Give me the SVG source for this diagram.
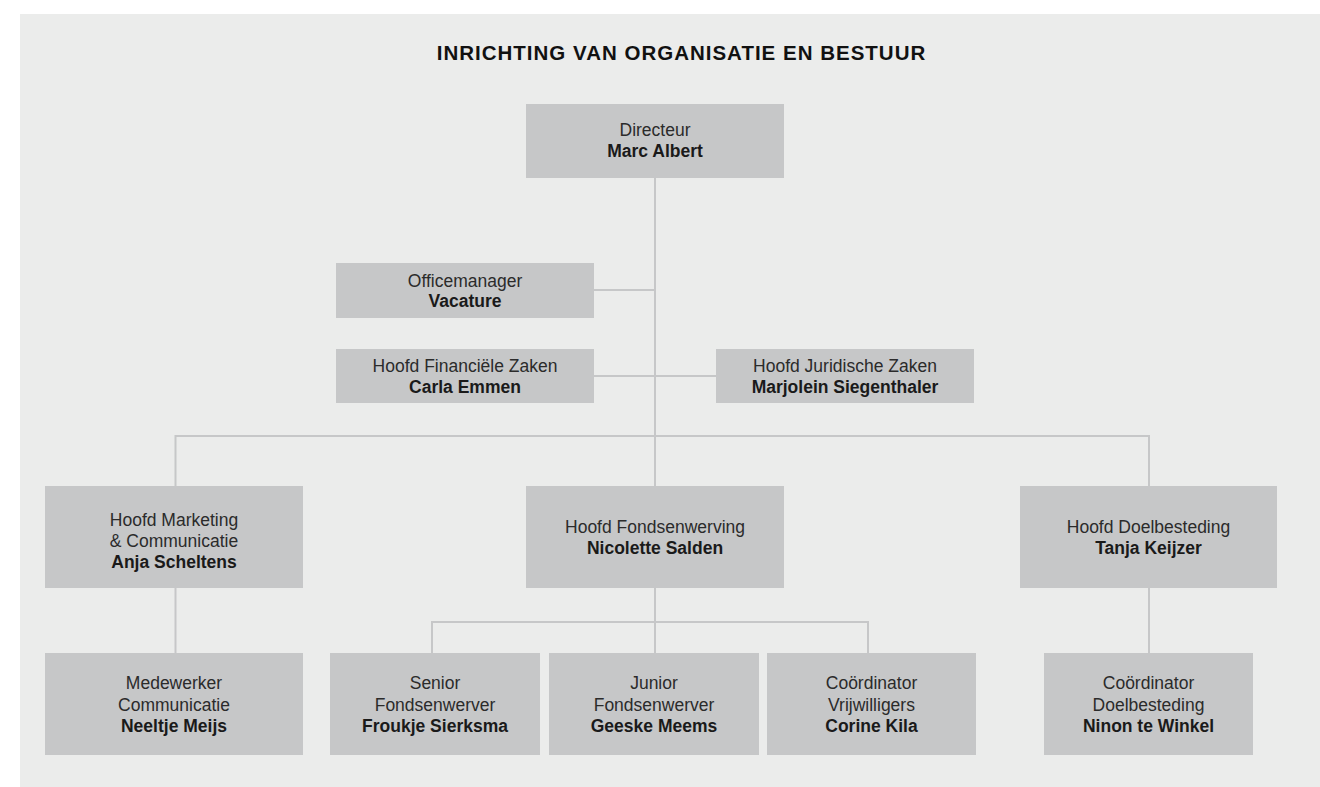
<svg xmlns="http://www.w3.org/2000/svg" width="1320" height="787" viewBox="0 0 1320 787">
<style>
.bg{fill:#ffffff}
.panel{fill:#ebeceb}
.box{fill:#c6c7c8}
.ln{stroke:#c6c7c8;stroke-width:2;fill:none}
text{font-family:"Liberation Sans",Arial,sans-serif;font-size:17.5px;text-anchor:middle}
.r{fill:#2b2b2b}
.b{fill:#1a1a1a;font-weight:bold}
.title{font-size:20.5px;font-weight:bold;fill:#111;letter-spacing:1px}
</style>
<rect class="bg" x="0" y="0" width="1320" height="787"/>
<rect class="panel" x="20" y="14" width="1300" height="773"/>
<text class="title" x="681.5" y="59.5">INRICHTING VAN ORGANISATIE EN BESTUUR</text>
<g id="connectors">
<path class="ln" d="M655 178V486"/>
<path class="ln" d="M594 290H655"/>
<path class="ln" d="M594 376H716"/>
<path class="ln" d="M175.5 486V436H1149V486"/>
<path class="ln" d="M175.5 588V653"/>
<path class="ln" d="M655 588V653"/>
<path class="ln" d="M432 653V622H868V653"/>
<path class="ln" d="M1149 588V653"/>
</g>
<g id="directeur">
<rect class="box" x="526" y="104" width="258" height="74"/>
<text class="r" x="655" y="136">Directeur</text>
<text class="b" x="655" y="156.5">Marc Albert</text>
</g>
<g id="officemanager">
<rect class="box" x="336" y="263" width="258" height="55"/>
<text class="r" x="465" y="286.5">Officemanager</text>
<text class="b" x="465" y="307">Vacature</text>
</g>
<g id="financien">
<rect class="box" x="336" y="349" width="258" height="54"/>
<text class="r" x="465" y="372.3">Hoofd Financiële Zaken</text>
<text class="b" x="465" y="392.7">Carla Emmen</text>
</g>
<g id="juridisch">
<rect class="box" x="716" y="349" width="258" height="54"/>
<text class="r" x="845" y="372.3">Hoofd Juridische Zaken</text>
<text class="b" x="845" y="392.7">Marjolein Siegenthaler</text>
</g>
<g id="marketing">
<rect class="box" x="45" y="486" width="258" height="102"/>
<text class="r" x="174" y="526">Hoofd Marketing</text>
<text class="r" x="174" y="547">&amp; Communicatie</text>
<text class="b" x="174" y="568">Anja Scheltens</text>
</g>
<g id="fondsenwerving">
<rect class="box" x="526" y="486" width="258" height="102"/>
<text class="r" x="655" y="533.3">Hoofd Fondsenwerving</text>
<text class="b" x="655" y="554">Nicolette Salden</text>
</g>
<g id="doelbesteding">
<rect class="box" x="1020" y="486" width="257" height="102"/>
<text class="r" x="1148.5" y="533.3">Hoofd Doelbesteding</text>
<text class="b" x="1148.5" y="554">Tanja Keijzer</text>
</g>
<g id="medewerker">
<rect class="box" x="45" y="653" width="258" height="102"/>
<text class="r" x="174" y="689">Medewerker</text>
<text class="r" x="174" y="710.5">Communicatie</text>
<text class="b" x="174" y="731.5">Neeltje Meijs</text>
</g>
<g id="senior">
<rect class="box" x="330" y="653" width="210" height="102"/>
<text class="r" x="435" y="689">Senior</text>
<text class="r" x="435" y="710.5">Fondsenwerver</text>
<text class="b" x="435" y="731.5">Froukje Sierksma</text>
</g>
<g id="junior">
<rect class="box" x="549" y="653" width="210" height="102"/>
<text class="r" x="654" y="689">Junior</text>
<text class="r" x="654" y="710.5">Fondsenwerver</text>
<text class="b" x="654" y="731.5">Geeske Meems</text>
</g>
<g id="vrijwilligers">
<rect class="box" x="767" y="653" width="209" height="102"/>
<text class="r" x="871.5" y="689">Coördinator</text>
<text class="r" x="871.5" y="710.5">Vrijwilligers</text>
<text class="b" x="871.5" y="731.5">Corine Kila</text>
</g>
<g id="coord-doel">
<rect class="box" x="1044" y="653" width="209" height="102"/>
<text class="r" x="1148.5" y="689">Coördinator</text>
<text class="r" x="1148.5" y="710.5">Doelbesteding</text>
<text class="b" x="1148.5" y="731.5">Ninon te Winkel</text>
</g>
</svg>
